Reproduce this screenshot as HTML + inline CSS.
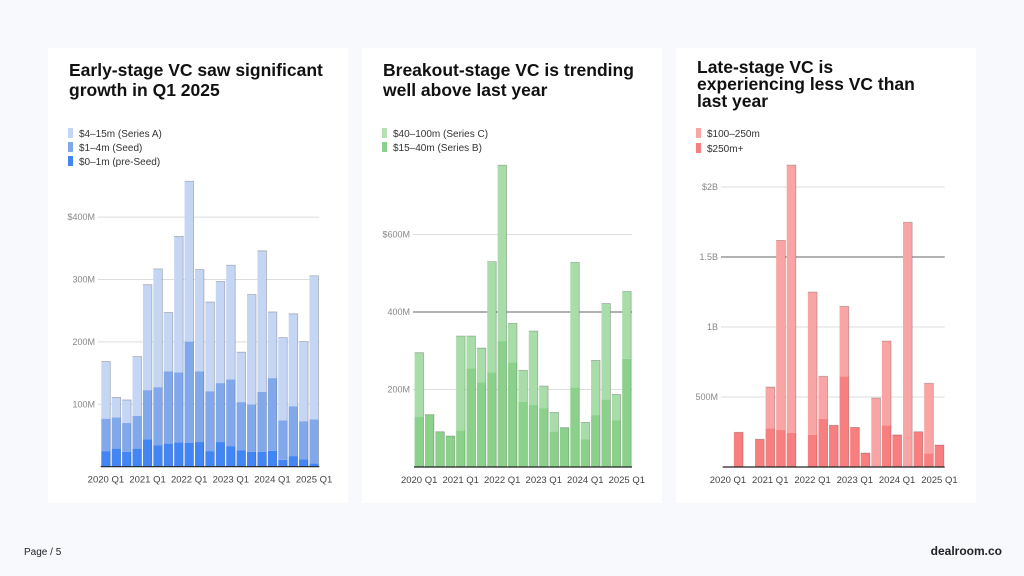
<!DOCTYPE html>
<html><head><meta charset="utf-8">
<style>
body{margin:0;width:1024px;height:576px;background:#f7f9fc;font-family:"Liberation Sans",sans-serif;position:relative;overflow:hidden}
.card{position:absolute;top:48px;width:300px;height:455px;background:#fff}
.title{position:absolute;left:21px;top:12px;font-size:17.5px;font-weight:bold;line-height:20px;color:#111;width:270px}
.leg{position:absolute;left:20px;font-size:10px;color:#333}
.leg span{display:inline-block;width:5px;height:10px;margin-right:6px;vertical-align:-1px}
svg{position:absolute;left:0;top:0}
.foot{position:absolute;bottom:18px;font-size:10px;color:#222}
</style></head><body>
<div class="card" style="left:48px">
 <div class="title">Early-stage VC saw significant growth in Q1 2025</div>
 <div class="leg" style="top:80px"><span style="background:#c5d5f4"></span>$4–15m (Series A)</div>
 <div class="leg" style="top:94px"><span style="background:#82a8ec"></span>$1–4m (Seed)</div>
 <div class="leg" style="top:108px"><span style="background:#4285f4"></span>$0–1m (pre-Seed)</div>
 <svg id="c1" width="300" height="455"></svg>
</div>
<div class="card" style="left:362px">
 <div class="title">Breakout-stage VC is trending well above last year</div>
 <div class="leg" style="top:80px"><span style="background:#b4e2b4"></span>$40–100m (Series C)</div>
 <div class="leg" style="top:94px"><span style="background:#8bd18b"></span>$15–40m (Series B)</div>
 <svg id="c2" width="300" height="455"></svg>
</div>
<div class="card" style="left:676px">
 <div class="title" style="line-height:17px;width:245px;top:11px">Late-stage VC is experiencing less VC than last year</div>
 <div class="leg" style="top:80px"><span style="background:#f9a5a5"></span>$100–250m</div>
 <div class="leg" style="top:95px"><span style="background:#f77f7f"></span>$250m+</div>
 <svg id="c3" width="300" height="455"></svg>
</div>
<div class="foot" style="left:24px">Page / 5</div>
<div class="foot" style="right:22px;font-weight:bold;font-size:12px">dealroom.co</div>
<script>
const quarters=["2020 Q1","2020 Q2","2020 Q3","2020 Q4","2021 Q1","2021 Q2","2021 Q3","2021 Q4","2022 Q1","2022 Q2","2022 Q3","2022 Q4","2023 Q1","2023 Q2","2023 Q3","2023 Q4","2024 Q1","2024 Q2","2024 Q3","2024 Q4","2025 Q1"];
// chart 1 (M)
const preSeed=[25,29,24,29,44,34,37,39,38,39.5,25,39.5,33,26,24,24,25.6,11,17,12,5];
const seed=[52,50,46,52.6,78.7,93.5,116,112,162.5,113.5,96,94.5,107,77.5,75.7,96,116.4,63,80,61,71];
const seriesA=[91.5,32,37,95,169,189.5,94,218,257,163,143,163,183,80,176.3,226,106,133,148,127.5,230];
const ticks1=[100,200,300,400];
const tickLabels1=["100M","200M","300M","$400M"];
// chart 2 (M)
const seriesB=[129,135,91,80,94,255,218,244,325,270,168.6,160,152,92,101.5,205,71,134,174,121,279];
const seriesC=[166,0,0,0,244,83,89,286,454,101,81,191,57,49,0,323,44,141,248,66,174];
const ticks2=[200,400,600];
const tickLabels2=["200M","400M","$600M"];
// chart 3 (M)
const over250=[0,248,0,198,276,264,243,0,229,345,298,648,283,100,0,298,229,0,252,98,157];
const mid100=[0,0,0,0,295,1355,1914,0,1021,303,0,500,0,0,493,602,0,1748,0,500,0];
const ticks3=[500,1000,1500,2000];
const tickLabels3=["500M","1B","1.5B","$2B"];

const NS="http://www.w3.org/2000/svg";
function mk(svg,tag,attrs){const e=document.createElementNS(NS,tag);for(const k in attrs)e.setAttribute(k,attrs[k]);svg.appendChild(e);return e;}
function draw(id,cfg){
 const svg=document.getElementById(id);
 const y=v=>cfg.base-v*cfg.scale;
 const step=(cfg.x1-cfg.x0)/quarters.length;
 cfg.ticks.forEach((t,i)=>{
  const l=mk(svg,'line',{x1:cfg.gx0,x2:cfg.x1,y1:y(t),y2:y(t),stroke:t===cfg.dark?'#666':'#ddd','stroke-width':1});
  
  
  const tx=mk(svg,'text',{x:cfg.gx0-3,y:y(t)+3,'text-anchor':'end','font-size':9,fill:'#888'});
  tx.textContent=cfg.labels[i];
  
  
 });
 quarters.forEach((q,i)=>{
  let acc=0;
  const bx=cfg.x0+i*step+0.6, bw=step-1.4;
  cfg.series.forEach((s,k)=>{
   const v=s[i]; if(v<=0)return;
   const r=mk(svg,'rect',{x:bx,y:y(acc+v),width:bw,height:v*cfg.scale,fill:cfg.colors[k]});
   
   
   acc+=v;
  });
  if(acc>0){
   const e=mk(svg,'path',{d:`M${bx} ${y(acc)}H${bx+bw}V${cfg.base}`,fill:'none',stroke:'rgba(0,0,0,0.25)','stroke-width':0.8});
   
   
  }
  if(i%4===0){
   const tx=mk(svg,'text',{x:cfg.x0+i*step+step/2,y:cfg.base+16,'text-anchor':'middle','font-size':9.5,fill:'#444'});
   tx.textContent=q;
   
   
  }
 });
 const b=mk(svg,'line',{x1:cfg.x0,x2:cfg.x1,y1:cfg.base,y2:cfg.base,stroke:'#222','stroke-width':1.2});
 
 
}
draw('c1',{base:418.7,scale:0.624,x0:52.7,x1:271.3,gx0:50,series:[preSeed,seed,seriesA],colors:['#4285f4','#82a8ec','#c5d5f4'],ticks:ticks1,labels:tickLabels1,dark:-1});
draw('c2',{base:419,scale:0.3875,x0:52,x1:270,gx0:51,series:[seriesB,seriesC],colors:['#8bd18b','#a8dca8'],ticks:ticks2,labels:tickLabels2,dark:400});
draw('c3',{base:419,scale:0.14,x0:46.7,x1:268.7,gx0:45,series:[over250,mid100],colors:['#f77f7f','#f9a5a5'],ticks:ticks3,labels:tickLabels3,dark:1500});
</script>
</body></html>
